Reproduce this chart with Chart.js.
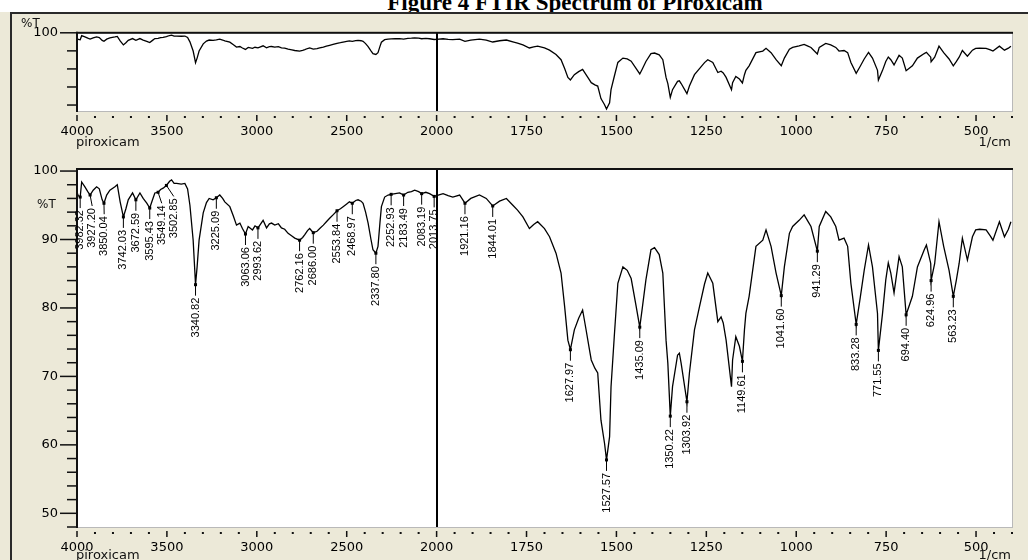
<!DOCTYPE html>
<html>
<head>
<meta charset="utf-8">
<title>FTIR Spectrum of Piroxicam</title>
<script src="https://cdn.jsdelivr.net/npm/chart.js@4.4.1/dist/chart.umd.min.js"></script>
<style>
  html, body { margin: 0; padding: 0; }
  body { width: 1028px; height: 560px; position: relative; overflow: hidden; background: #ECE9D8; }
  #caption { position: absolute; left: 0; top: 0; width: 1028px; height: 12px; background: #fff; overflow: hidden; }
  #caption span { position: absolute; left: 0; width: 1150px; top: -10px; text-align: center; white-space: nowrap;
                  font: bold 23px "Liberation Serif", "Times New Roman", serif; line-height: 26px; color: #000; }
  #frameTop { position: absolute; left: 10px; top: 12px; width: 1018px; height: 2px; background: #2a2a2a; }
  #frameLeft { position: absolute; left: 10px; top: 12px; width: 2px; height: 548px; background: #2a2a2a; }
  canvas { position: absolute; left: 0; }
</style>
</head>
<body>
<div id="caption"><span>Figure 4 FTIR Spectrum of Piroxicam</span></div>
<div id="frameTop"></div>
<div id="frameLeft"></div>
<canvas id="overview" width="1028" height="136" style="top:14px;width:1028px;height:136px"></canvas>
<canvas id="detail" width="1028" height="410" style="top:150px;width:1028px;height:410px"></canvas>
<script>
// Spectrum: wavenumber (1/cm) and transmittance (%T)
const wavenumbers = [
  4000, 3993, 3982.32, 3974, 3956, 3940, 3927.2, 3910, 3891, 3876,
  3860, 3850.04, 3835, 3817, 3789, 3776, 3760, 3742.03, 3728, 3715,
  3691, 3672.59, 3650, 3632, 3612, 3595.43, 3580, 3567, 3549.14, 3535,
  3521, 3502.85, 3485, 3474, 3460, 3446, 3420, 3400, 3385, 3372,
  3354, 3345, 3340.82, 3332, 3321, 3298, 3280, 3265, 3243, 3225.09,
  3206, 3190, 3178, 3150, 3130, 3113, 3094, 3080, 3063.06, 3048,
  3024, 3010, 2993.62, 2983, 2965, 2946, 2930, 2918, 2900, 2880,
  2863, 2845, 2826, 2805, 2789, 2762.16, 2745, 2733, 2718, 2706,
  2686, 2665, 2650, 2630, 2613, 2595, 2576, 2553.84, 2535, 2520,
  2500, 2485, 2468.97, 2450, 2437, 2420, 2409, 2395, 2381, 2365,
  2354, 2337.8, 2326, 2315, 2307, 2289, 2270, 2252.93, 2230, 2206,
  2183.49, 2160, 2140, 2122, 2100, 2083.19, 2060, 2039, 2013.75, 2000,
  1982, 1968, 1955, 1936, 1921.16, 1905, 1881, 1862, 1844.01, 1825,
  1806, 1788, 1775, 1760, 1742, 1730, 1719, 1700, 1686, 1668,
  1654, 1644, 1635, 1627.97, 1617, 1605, 1594, 1585, 1575, 1570,
  1560, 1552, 1543, 1533, 1527.57, 1519, 1515, 1506, 1496, 1482,
  1470, 1459, 1445, 1435.09, 1428, 1418, 1404, 1394, 1381, 1371,
  1362, 1357, 1350.22, 1344, 1330, 1325, 1320, 1303.92, 1297, 1283,
  1269, 1255, 1246, 1232, 1218, 1209, 1203, 1195, 1180, 1177,
  1168, 1158, 1149.61, 1144, 1140, 1131, 1112, 1093, 1084, 1070,
  1056, 1041.6, 1033, 1019, 1010, 992, 978, 969, 959, 941.29,
  936, 918, 904, 890, 881, 867, 857, 848, 833.28, 822,
  811, 799, 788, 774, 771.55, 760, 751, 744, 737, 728,
  723, 714, 705, 694.4, 677, 663, 644, 638, 626, 624.96,
  615, 603, 590, 575, 563.23, 555, 547, 538, 524, 510,
  501, 490, 472, 460, 453, 435, 421, 410, 403
];
const transmittance = [
  96.9, 96.4, 96.2, 98.4, 97.7, 97.0, 96.5, 97.2, 97.7, 97.4,
  95.8, 95.3, 96.5, 97.2, 97.7, 98.0, 95.5, 93.3, 94.5, 95.8,
  96.8, 95.8, 96.8, 96.0, 95.3, 94.6, 95.8, 96.8, 96.9, 97.3,
  97.5, 97.9, 98.5, 98.7, 98.2, 98.2, 98.1, 98.2, 97.4, 95.0,
  89.9, 85.5, 83.4, 86.0, 89.9, 93.9, 95.4, 96.0, 95.8, 96.1,
  96.5, 96.0, 95.5, 94.8, 93.4, 92.1, 92.4, 91.6, 90.8, 91.9,
  91.4, 92.0, 91.7, 92.1, 92.8, 91.7, 92.3, 92.4, 92.1, 92.3,
  91.7, 91.5, 90.9, 90.5, 90.2, 89.9, 90.3, 90.7, 91.3, 91.6,
  91.0, 91.2, 91.6, 92.1, 92.6, 93.1, 93.6, 94.2, 94.5, 94.8,
  95.2, 95.5, 95.3, 95.7, 95.8, 95.6, 95.3, 94.0, 92.4, 90.0,
  88.5, 88.0, 89.0, 92.5, 94.8, 96.2, 96.5, 96.6, 96.7, 96.8,
  96.5, 96.9, 97.0, 97.2, 97.0, 96.7, 96.9, 96.7, 96.3, 96.4,
  96.7, 96.4, 96.2, 96.5, 95.3, 96.0, 96.5, 96.0, 94.9, 95.6,
  96.0, 95.0, 94.3, 93.3, 91.6, 92.2, 92.6, 91.6, 90.4, 88.0,
  85.1, 80.2, 75.3, 73.9, 76.8, 78.5, 79.7, 77.0, 73.9, 72.4,
  71.2, 70.5, 63.6, 60.2, 57.8, 61.2, 68.5, 75.8, 83.6, 86.0,
  85.5, 84.3, 80.2, 77.2, 80.0, 84.1, 88.5, 88.8, 87.8, 85.1,
  75.3, 71.9, 64.2, 68.5, 73.1, 73.4, 71.9, 66.3, 70.5, 76.8,
  80.2, 83.5, 85.1, 83.6, 78.0, 78.7, 77.8, 75.3, 68.5, 72.4,
  75.8, 74.4, 72.2, 76.8, 79.2, 81.7, 89.0, 89.9, 91.4, 89.0,
  85.1, 81.8, 86.0, 90.9, 91.9, 92.8, 93.6, 92.8, 91.9, 88.3,
  91.9, 94.1, 93.3, 91.9, 89.9, 90.2, 89.0, 83.6, 77.6, 81.5,
  85.5, 89.2, 86.0, 79.2, 73.8, 79.2, 84.1, 86.6, 85.1, 82.2,
  84.1, 87.5, 86.0, 79.0, 81.7, 86.0, 88.5, 89.2, 86.5, 84.0,
  86.5, 92.6, 89.0, 85.5, 81.7, 84.0, 86.5, 90.2, 87.0, 90.4,
  91.4, 91.5, 91.4, 90.5, 89.9, 92.6, 90.4, 91.5, 92.6
];

// Peaks picked and annotated in the detail panel
const peakWavenumbers = [
  3982.32, 3927.2, 3850.04, 3742.03, 3672.59, 3595.43, 3549.14, 3502.85,
  3340.82, 3225.09, 3063.06, 2993.62, 2762.16, 2686, 2553.84, 2468.97,
  2337.8, 2252.93, 2183.49, 2083.19, 2013.75, 1921.16, 1844.01,
  1627.97, 1527.57, 1435.09, 1350.22, 1303.92, 1149.61, 1041.6,
  941.29, 833.28, 771.55, 694.4, 624.96, 563.23
];

// Axis labels
const xTickLabels = [4000, 3500, 3000, 2500, 2000, 1750, 1500, 1250, 1000, 750, 500];
const detailYLabels = [100, 90, 80, 70, 60, 50];
const overviewYLabels = [100];
const sampleName = 'piroxicam';
const xUnit = '1/cm';
const yUnit = '%T';

// Split abscissa: 4000–2000 is drawn at half the scale of 2000–400
function axisPos(w) { return w <= 2000 ? 2000 - w : (2000 - w) / 2; }
function waveAt(u) { return u >= 0 ? 2000 - u : 2000 - 2 * u; }

const spectrumPoints = wavenumbers.map((w, i) => ({ x: axisPos(w), y: transmittance[i] }));

const AXIS_FONT = { family: '"DejaVu Sans", sans-serif', size: 13 };

function rangeTicks(from, to, step) {
  const t = [];
  for (let v = from; v <= to + 1e-9; v += step) t.push({ value: Math.round(v * 100) / 100 });
  return t;
}

function panelPlugin(cfg) {
  return {
    id: 'panel_' + cfg.name,
    beforeDatasetsDraw(chart) {
      const { ctx, chartArea: a } = chart;
      ctx.save();
      ctx.fillStyle = '#fff';
      ctx.fillRect(a.left, a.top, a.right - a.left, a.bottom - a.top);
      ctx.restore();
    },
    afterDatasetsDraw(chart) {
      const { ctx, chartArea: a, scales: { x, y } } = chart;
      ctx.save();
      ctx.fillStyle = '#000';
      // split marker at 2000 1/cm
      const xs = Math.round(x.getPixelForValue(axisPos(2000)));
      ctx.fillRect(xs - 1, a.top, 2, a.bottom - a.top);
      // sunken frame: dark top/left, light bottom/right
      ctx.fillStyle = '#b9b9b9';
      ctx.fillRect(a.left, a.bottom, a.right - a.left + 1, 1);
      ctx.fillRect(a.right, a.top, 1, a.bottom - a.top + 1);
      ctx.fillStyle = '#111';
      ctx.fillRect(a.left - 1, a.top - 1, a.right - a.left + 2, 2);
      ctx.fillRect(a.left - 1, a.top - 1, 2, a.bottom - a.top + 2);
      // x tick marks
      x.ticks.forEach(t => {
        const px = x.getPixelForValue(t.value);
        const w = Math.round(waveAt(t.value));
        if (xTickLabels.includes(w)) ctx.fillRect(px - 0.75, a.bottom + 4, 1.5, 6);
        else ctx.fillRect(px - 1, a.bottom + 5, 2, 2);
      });
      // y tick marks
      y.ticks.forEach(t => {
        const py = y.getPixelForValue(t.value);
        const major = cfg.yLabels.includes(t.value);
        const len = major ? 17 : 10;
        ctx.fillRect(a.left - len, py - 0.75, len, 1.5);
      });
      // axis captions
      ctx.font = '13px "DejaVu Sans", sans-serif';
      ctx.textBaseline = 'middle';
      ctx.textAlign = 'left';
      ctx.fillText(sampleName, a.left - 1, cfg.captionY);
      ctx.textAlign = 'right';
      ctx.fillText(xUnit, a.right - 1, cfg.captionY);
      ctx.font = '12px "DejaVu Sans", sans-serif';
      ctx.textAlign = 'left';
      ctx.textBaseline = 'alphabetic';
      ctx.fillText(yUnit, cfg.unitX, cfg.unitY);
      ctx.restore();
    }
  };
}

const peakLabels = {
  id: 'peakLabels',
  afterDatasetsDraw(chart) {
    const { ctx, scales: { x, y } } = chart;
    const pts = peakWavenumbers.map(w => {
      const i = wavenumbers.indexOf(w);
      return { w, px: x.getPixelForValue(axisPos(w)), py: y.getPixelForValue(transmittance[i]) };
    }).sort((p, q) => p.px - q.px);
    let prev = -Infinity;
    ctx.save();
    ctx.fillStyle = '#000';
    ctx.strokeStyle = '#000';
    ctx.lineWidth = 1;
    ctx.font = '11px "Liberation Sans", Arial, sans-serif';
    pts.forEach(p => {
      const lx = Math.max(p.px, prev + 12);
      prev = lx;
      ctx.fillRect(p.px - 1.5, p.py - 1.5, 3, 3);
      ctx.beginPath();
      ctx.moveTo(p.px, p.py);
      ctx.lineTo(lx, p.py + 11);
      ctx.stroke();
      ctx.save();
      ctx.translate(lx, p.py + 13);
      ctx.rotate(-Math.PI / 2);
      ctx.textAlign = 'right';
      ctx.textBaseline = 'middle';
      ctx.fillText(p.w.toFixed(2), 0, 0);
      ctx.restore();
    });
    ctx.restore();
  }
};

function makePanel(canvasId, cfg, extraPlugins) {
  return new Chart(document.getElementById(canvasId), {
    type: 'line',
    data: {
      datasets: [{
        data: spectrumPoints,
        borderColor: '#000',
        borderWidth: 1.3,
        pointRadius: 0,
        tension: 0,
        fill: false
      }]
    },
    options: {
      responsive: false,
      animation: false,
      devicePixelRatio: 1,
      layout: { padding: { left: 0, right: 16, top: cfg.padTop, bottom: 0 } },
      plugins: { legend: { display: false }, tooltip: { enabled: false }, title: { display: false } },
      scales: {
        x: {
          type: 'linear',
          min: axisPos(4000),
          max: axisPos(400),
          grid: { display: false },
          border: { display: false },
          afterBuildTicks(s) { s.ticks = rangeTicks(s.min, s.max, 50); },
          afterFit(s) { s.height = cfg.xHeight; },
          ticks: {
            autoSkip: false, maxRotation: 0, minRotation: 0, padding: 5,
            color: '#000', font: AXIS_FONT,
            callback(v) {
              const w = Math.round(waveAt(v));
              return xTickLabels.includes(w) ? String(w) : '';
            }
          }
        },
        y: {
          type: 'linear',
          min: cfg.yMin,
          max: cfg.yMax,
          grid: { display: false },
          border: { display: false },
          afterBuildTicks(s) { s.ticks = rangeTicks(cfg.tickFrom, 100, cfg.tickStep); },
          afterFit(s) { s.width = 77; },
          ticks: {
            autoSkip: false, padding: 11, color: '#000', font: AXIS_FONT,
            callback(v) { return cfg.yLabels.includes(v) ? String(v) : ''; }
          }
        }
      }
    },
    plugins: [panelPlugin(cfg)].concat(extraPlugins || [])
  });
}

Chart.defaults.font.family = '"DejaVu Sans", sans-serif';

makePanel('overview', {
  name: 'overview', padTop: 17, xHeight: 39, yMin: 56.7, yMax: 100,
  tickFrom: 60, tickStep: 10, yLabels: overviewYLabels,
  captionY: 129, unitX: 21, unitY: 13
});

makePanel('detail', {
  name: 'detail', padTop: 19, xHeight: 33, yMin: 48, yMax: 100.3,
  tickFrom: 48, tickStep: 2, yLabels: detailYLabels,
  captionY: 406, unitX: 37, unitY: 58
}, [peakLabels]);
</script>
</body>
</html>
